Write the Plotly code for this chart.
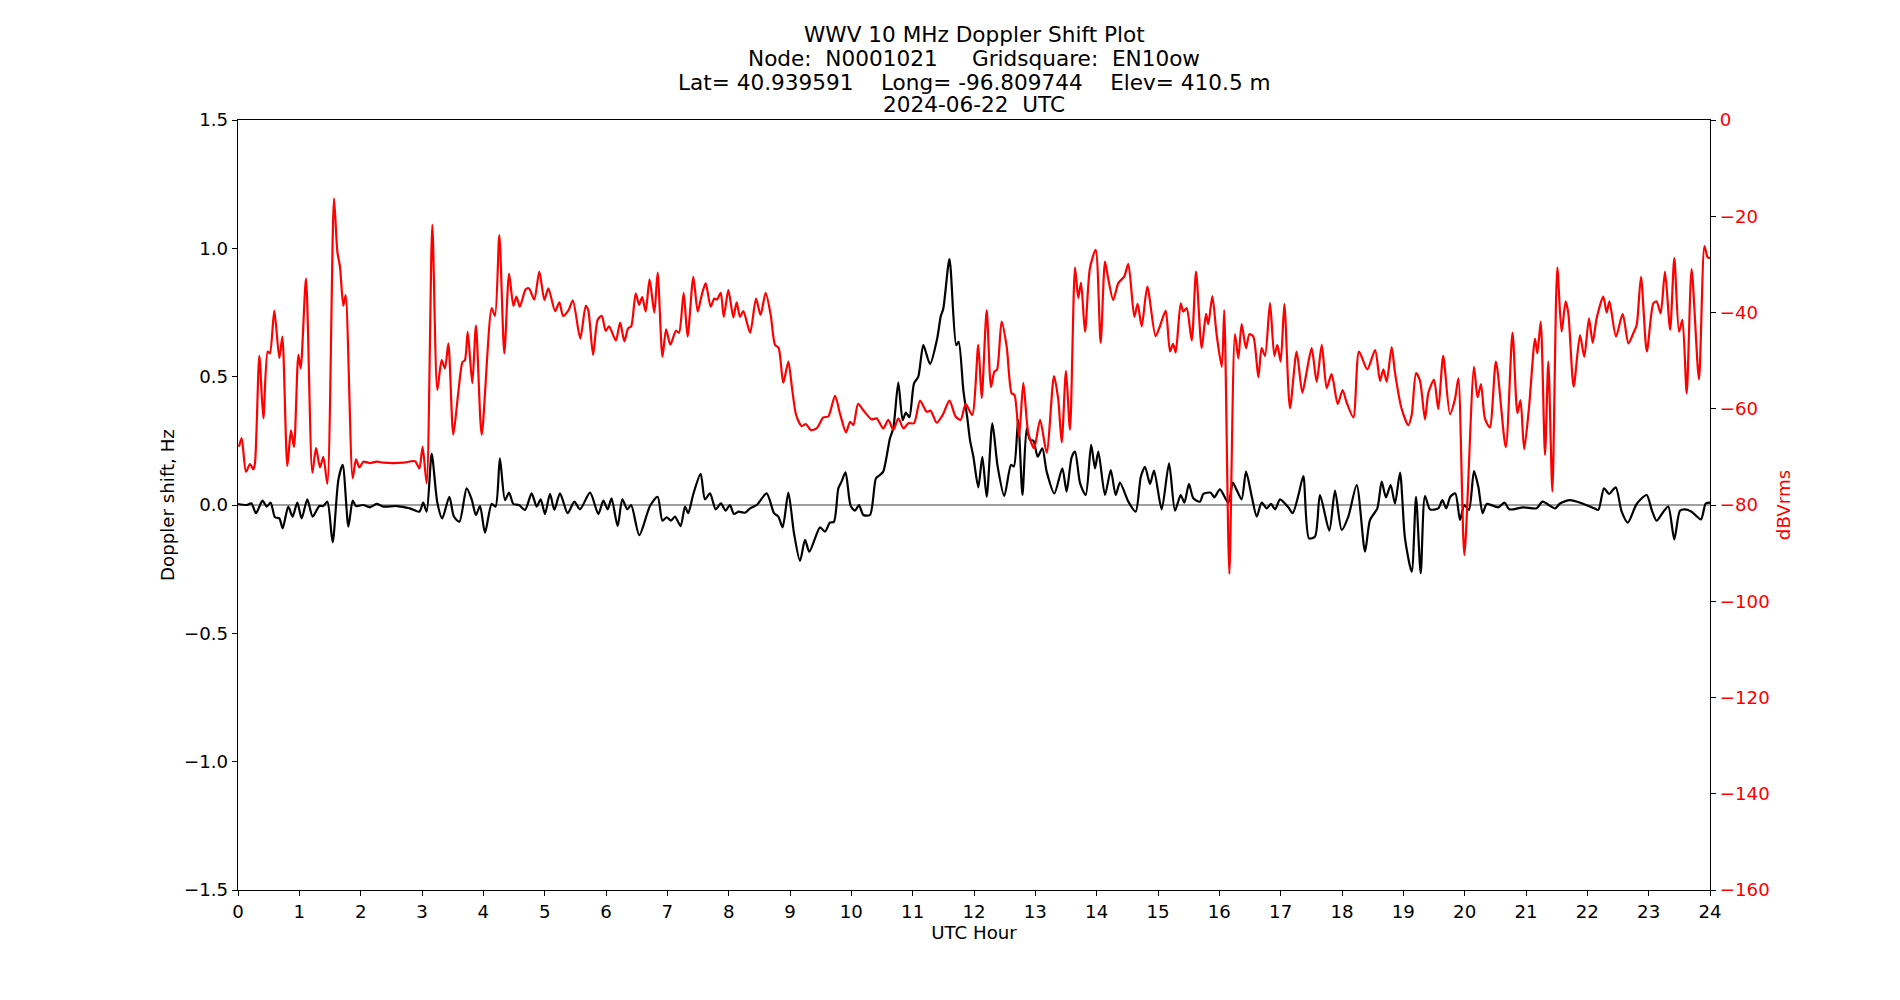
import plotly.graph_objects as go

# ---- data ----
dop_hours = [0.0, 0.14, 0.22, 0.293, 0.40, 0.467, 0.533, 0.603, 0.674, 0.728, 0.82, 0.89, 0.967, 1.038, 1.13, 1.217,
             1.326, 1.39, 1.457, 1.543, 1.636, 1.707, 1.8, 1.87, 1.924, 2.04, 2.15, 2.26, 2.37, 2.587, 2.80, 2.957,
             3.02, 3.076, 3.158, 3.25, 3.33, 3.446, 3.52, 3.61, 3.728, 3.81, 3.88, 3.946, 4.027, 4.136, 4.2, 4.27,
             4.353, 4.42, 4.49, 4.58, 4.68, 4.788, 4.87, 4.935, 5.005, 5.087, 5.158, 5.25, 5.375, 5.484, 5.576, 5.74,
             5.875, 5.957, 6.027, 6.09, 6.19, 6.266, 6.348, 6.41, 6.543, 6.717, 6.842, 6.92, 6.99, 7.06, 7.125, 7.217,
             7.288, 7.34, 7.424, 7.543, 7.614, 7.696, 7.788, 7.875, 7.95, 8.02, 8.087, 8.16, 8.266, 8.35, 8.457, 8.62,
             8.74, 8.81, 8.88, 8.973, 9.065, 9.163, 9.245, 9.315, 9.49, 9.57, 9.65, 9.717, 9.788, 9.84, 9.905, 9.99,
             10.06, 10.125, 10.196, 10.304, 10.402, 10.467, 10.52, 10.63, 10.685, 10.766, 10.837, 10.89, 10.946,
             11.022, 11.092, 11.174, 11.283, 11.40, 11.457, 11.5, 11.6, 11.71, 11.75, 11.826, 11.89, 11.935, 11.99,
             12.07, 12.136, 12.207, 12.3, 12.386, 12.494, 12.603, 12.65, 12.72, 12.79, 12.859, 12.913, 12.97, 13.038,
             13.114, 13.185, 13.31, 13.44, 13.51, 13.592, 13.647, 13.73, 13.821, 13.91, 13.973, 14.027, 14.136, 14.23,
             14.31, 14.38, 14.516, 14.636, 14.72, 14.788, 14.87, 14.935, 15.06, 15.18, 15.277, 15.37, 15.43, 15.505,
             15.576, 15.685, 15.74, 15.86, 15.918, 16.01, 16.147, 16.22, 16.283, 16.364, 16.435, 16.527, 16.61, 16.69,
             16.772, 16.843, 16.91, 16.99, 17.125, 17.196, 17.29, 17.37, 17.462, 17.56, 17.641, 17.793, 17.886,
             17.995, 18.103, 18.24, 18.375, 18.457, 18.576, 18.647, 18.717, 18.793, 18.864, 18.946, 19.027, 19.136,
             19.207, 19.283, 19.353, 19.435, 19.57, 19.636, 19.70, 19.766, 19.848, 19.924, 19.995, 20.07, 20.152,
             20.223, 20.293, 20.36, 20.55, 20.65, 20.73, 20.957, 21.174, 21.27, 21.473, 21.554, 21.717, 21.918,
             22.114, 22.18, 22.272, 22.353, 22.462, 22.56, 22.66, 22.804, 22.967, 23.05, 23.13, 23.24, 23.32, 23.418,
             23.51, 23.592, 23.70, 23.853, 23.93, 24.0]
dop_hz = [0.004, 0.0, 0.006, -0.032, 0.017, -0.006, 0.009, -0.048, -0.052, -0.091, -0.006, -0.045, 0.009, -0.052,
          0.022, -0.045, -0.004, -0.004, 0.013, -0.145, 0.097, 0.156, -0.084, 0.017, -0.004, 0.0, -0.009, 0.004,
          -0.006, -0.004, -0.013, -0.026, 0.009, -0.026, 0.199, 0.009, -0.052, 0.032, -0.045, -0.065, 0.065, 0.022,
          -0.039, -0.004, -0.108, 0.004, -0.006, 0.182, 0.019, 0.048, 0.004, 0.0, -0.019, 0.045, -0.006, 0.022,
          -0.035, 0.043, -0.019, 0.045, -0.032, 0.013, -0.017, 0.048, -0.035, 0.017, -0.017, 0.026, -0.082, 0.022,
          -0.017, 0.0, -0.117, -0.004, 0.032, -0.061, -0.048, -0.061, -0.045, -0.082, -0.006, -0.032, 0.043, 0.121,
          0.022, 0.045, -0.017, 0.006, -0.022, 0.0, -0.035, -0.026, -0.03, -0.013, 0.0, 0.045, -0.032, -0.045,
          -0.087, 0.048, -0.11, -0.218, -0.136, -0.182, -0.087, -0.104, -0.069, -0.065, 0.065, 0.091, 0.127, -0.004,
          -0.022, 0.0, -0.039, -0.039, 0.104, 0.117, 0.13, 0.26, 0.30, 0.477, 0.331, 0.36, 0.342, 0.474, 0.50,
          0.623, 0.549, 0.649, 0.734, 0.766, 0.958, 0.623, 0.636, 0.448, 0.34, 0.253, 0.188, 0.069, 0.188, 0.032,
          0.318, 0.149, 0.035, 0.156, 0.15, 0.331, 0.039, 0.299, 0.253, 0.25, 0.188, 0.221, 0.13, 0.045, 0.143,
          0.052, 0.186, 0.208, 0.084, 0.039, 0.234, 0.143, 0.208, 0.039, 0.136, 0.039, 0.087, 0.013, -0.026, 0.11,
          0.149, 0.082, 0.134, -0.017, 0.162, -0.022, 0.039, 0.009, 0.082, 0.026, 0.013, 0.043, 0.048, 0.03, 0.061,
          0.009, 0.087, 0.058, 0.022, 0.13, 0.035, -0.045, 0.009, -0.013, 0.004, -0.017, 0.022, -0.009, -0.032,
          0.039, 0.113, -0.13, -0.123, 0.039, -0.1, 0.056, -0.097, -0.045, 0.078, -0.182, -0.058, -0.013, 0.091,
          0.03, 0.078, 0.006, 0.126, -0.13, -0.26, 0.032, -0.266, 0.035, -0.017, -0.013, 0.019, -0.013, 0.032,
          0.045, -0.058, 0.0, -0.019, 0.132, 0.071, -0.032, 0.004, -0.009, 0.009, -0.017, -0.009, -0.013, 0.013,
          -0.013, 0.006, 0.019, 0.006, -0.013, -0.019, 0.065, 0.043, 0.069, -0.026, -0.069, 0.004, 0.039, -0.019,
          -0.061, -0.026, -0.006, -0.134, -0.022, -0.017, -0.026, -0.056, 0.006, 0.009]

pwr_hours = [0.016, 0.06, 0.13, 0.196, 0.25, 0.277, 0.348, 0.413, 0.484, 0.52, 0.592, 0.674, 0.723, 0.804, 0.864,
             0.913, 0.984, 1.022, 1.109, 1.212, 1.272, 1.337, 1.391, 1.457, 1.565, 1.62, 1.663, 1.717, 1.755, 1.87,
             1.924, 1.978, 2.043, 2.15, 2.26, 2.37, 2.53, 2.70, 2.886, 2.957, 3.01, 3.076, 3.168, 3.25, 3.32, 3.375,
             3.43, 3.51, 3.59, 3.66, 3.70, 3.745, 3.82, 3.88, 3.973, 4.136, 4.19, 4.261, 4.342, 4.42, 4.49, 4.54,
             4.595, 4.69, 4.745, 4.83, 4.913, 4.995, 5.06, 5.17, 5.24, 5.30, 5.39, 5.46, 5.58, 5.67, 5.71, 5.79,
             5.864, 5.93, 5.995, 6.05, 6.16, 6.23, 6.30, 6.36, 6.41, 6.484, 6.54, 6.59, 6.647, 6.71, 6.788, 6.842,
             6.92, 6.98, 7.05, 7.14, 7.19, 7.266, 7.33, 7.424, 7.495, 7.56, 7.625, 7.706, 7.766, 7.81, 7.87, 7.92,
             7.995, 8.076, 8.13, 8.185, 8.24, 8.35, 8.446, 8.52, 8.603, 8.685, 8.755, 8.815, 8.89, 8.973, 9.03, 9.10,
             9.19, 9.26, 9.337, 9.435, 9.543, 9.625, 9.734, 9.815, 9.913, 9.98, 10.033, 10.11, 10.195, 10.33, 10.413,
             10.52, 10.603, 10.685, 10.766, 10.85, 10.93, 11.022, 11.12, 11.228, 11.293, 11.39, 11.489, 11.6, 11.70,
             11.783, 11.864, 11.97, 12.07, 12.125, 12.207, 12.277, 12.332, 12.375, 12.45, 12.533, 12.614, 12.66,
             12.734, 12.804, 12.886, 12.98, 13.077, 13.185, 13.304, 13.375, 13.43, 13.50, 13.565, 13.647, 13.70,
             13.745, 13.81, 13.89, 13.984, 14.065, 14.136, 14.19, 14.27, 14.353, 14.45, 14.516, 14.614, 14.668,
             14.734, 14.826, 14.96, 15.033, 15.125, 15.196, 15.245, 15.288, 15.37, 15.413, 15.467, 15.55, 15.62,
             15.712, 15.783, 15.82, 15.886, 15.957, 16.04, 16.08, 16.163, 16.255, 16.31, 16.364, 16.435, 16.49,
             16.554, 16.636, 16.69, 16.745, 16.826, 16.897, 16.946, 17.0, 17.06, 17.152, 17.26, 17.353, 17.424,
             17.505, 17.587, 17.67, 17.75, 17.83, 17.93, 18.01, 18.076, 18.185, 18.277, 18.413, 18.54, 18.62,
             18.674, 18.728, 18.81, 18.864, 18.97, 19.08, 19.136, 19.207, 19.272, 19.353, 19.408, 19.5, 19.57,
             19.65, 19.76, 19.842, 19.897, 19.995, 20.152, 20.21, 20.266, 20.33, 20.41, 20.51, 20.67, 20.78, 20.86,
             20.91, 20.97, 21.05, 21.147, 21.185, 21.24, 21.31, 21.364, 21.43, 21.51, 21.58, 21.647, 21.69, 21.777,
             21.88, 21.95, 22.027, 22.087, 22.152, 22.26, 22.315, 22.36, 22.467, 22.576, 22.67, 22.75, 22.804,
             22.875, 22.97, 23.076, 23.13, 23.195, 23.266, 23.35, 23.418, 23.495, 23.55, 23.62, 23.70, 23.82, 23.91,
             23.96, 24.0]
pwr_dbv = [-67.9, -66.1, -73.1, -71.5, -72.6, -71.3, -49.0, -62.0, -48.1, -48.5, -39.6, -49.5, -45.0, -71.9, -64.5,
           -67.9, -48.8, -51.6, -32.9, -73.3, -68.1, -72.2, -70.0, -75.6, -16.3, -27.4, -30.5, -38.6, -36.4, -74.4,
           -70.5, -72.2, -71.0, -71.3, -71.0, -71.2, -71.3, -71.2, -70.9, -72.4, -67.9, -75.5, -21.8, -56.1, -49.9,
           -51.6, -46.4, -65.4, -56.8, -50.3, -49.9, -44.0, -54.7, -42.7, -65.4, -39.1, -40.7, -23.9, -48.5, -31.9,
           -38.6, -36.7, -38.8, -35.2, -35.0, -37.3, -31.5, -37.4, -35.0, -39.7, -37.9, -40.7, -39.5, -37.5, -45.4,
           -38.6, -39.5, -48.8, -41.5, -40.7, -43.8, -42.9, -45.8, -42.1, -46.0, -43.3, -42.9, -36.0, -38.4, -36.8,
           -39.8, -33.1, -40.0, -31.7, -49.2, -43.5, -46.7, -43.8, -44.2, -35.9, -45.0, -32.6, -39.8, -36.4, -33.9,
           -38.8, -37.1, -37.3, -35.9, -40.9, -35.3, -41.0, -37.9, -40.9, -39.7, -44.2, -37.1, -40.5, -35.9, -40.5,
           -46.7, -47.4, -54.6, -50.2, -55.4, -61.3, -63.6, -63.2, -64.4, -64.1, -61.8, -61.6, -57.3, -61.0, -64.9,
           -62.7, -63.4, -59.0, -60.3, -62.2, -62.0, -64.1, -62.3, -64.4, -62.0, -64.1, -63.0, -63.0, -58.3, -60.6,
           -60.4, -62.9, -61.3, -58.3, -61.6, -62.3, -59.0, -61.3, -46.7, -57.8, -39.5, -55.5, -52.3, -51.9, -41.9,
           -47.1, -56.8, -57.1, -65.9, -54.6, -65.1, -68.2, -62.3, -69.1, -53.2, -58.2, -67.0, -52.1, -64.4, -30.6,
           -37.0, -33.8, -44.0, -30.8, -27.0, -46.3, -29.4, -33.1, -37.4, -33.9, -32.5, -29.9, -40.9, -38.2, -42.9,
           -34.6, -44.9, -42.8, -39.6, -48.1, -46.5, -48.3, -38.1, -39.8, -39.1, -45.8, -31.5, -47.4, -40.3, -42.4,
           -36.6, -44.7, -51.3, -39.5, -94.3, -44.5, -49.5, -42.4, -47.4, -44.5, -45.0, -53.5, -47.4, -49.0, -38.0,
           -49.0, -46.7, -50.2, -38.2, -59.9, -48.1, -56.7, -52.3, -47.4, -54.4, -46.7, -55.7, -52.8, -59.0, -56.1,
           -58.7, -61.8, -48.1, -51.8, -47.8, -54.2, -51.8, -54.4, -47.2, -52.5, -59.9, -63.4, -61.3, -52.6, -54.2,
           -62.2, -56.7, -54.0, -60.1, -49.0, -61.1, -58.0, -53.7, -90.4, -51.3, -57.6, -54.9, -62.0, -63.9, -50.2,
           -68.0, -44.2, -60.9, -58.2, -68.4, -59.6, -45.4, -48.5, -41.9, -69.6, -50.2, -77.2, -30.6, -44.0, -37.7,
           -40.2, -55.4, -44.7, -49.2, -41.2, -46.3, -41.2, -36.7, -40.0, -37.7, -45.0, -40.3, -46.4, -44.3, -42.6,
           -32.6, -48.1, -38.1, -37.7, -40.2, -31.5, -43.6, -28.7, -44.0, -41.5, -56.8, -31.0, -53.9, -26.2, -28.5,
           -28.7]

title_lines = ["WWV 10 MHz Doppler Shift Plot",
               "Node:  N0001021     Gridsquare:  EN10ow",
               "Lat= 40.939591    Long= -96.809744    Elev= 410.5 m",
               "2024-06-22  UTC"]
hour_ticks = list(range(0, 25))
hz_ticks = [-1.5, -1.0, -0.5, 0.0, 0.5, 1.0, 1.5]
db_ticks = [0, -20, -40, -60, -80, -100, -120, -140, -160]

FONT = "DejaVu Sans"
TICK_SIZE = 18.2
TITLE_SIZE = 21.6

fig = go.Figure()

fig.add_trace(go.Scatter(x=dop_hours, y=dop_hz, mode="lines", yaxis="y",
                         line=dict(color="black", width=2.2, shape="spline", smoothing=0.7),
                         showlegend=False, hoverinfo="x+y"))
fig.add_trace(go.Scatter(x=pwr_hours, y=pwr_dbv, mode="lines", yaxis="y2",
                         line=dict(color="red", width=2.2, shape="spline", smoothing=0.7),
                         showlegend=False, hoverinfo="x+y"))

# zero reference line (axhline)
fig.add_shape(type="line", xref="x domain", x0=0, x1=1, yref="y", y0=0, y1=0,
              line=dict(color="#808080", width=1.5), layer="below")

top_px, bottom_px, H = 120, 110, 1000
plot_h = H - top_px - bottom_px
line_centers = [35, 59, 82.5, 104.5]
for txt, yc in zip(title_lines, line_centers):
    fig.add_annotation(text=txt, xref="paper", yref="paper", x=0.5,
                       y=(H - bottom_px - yc) / plot_h, xanchor="center", yanchor="middle",
                       showarrow=False, font=dict(family=FONT, size=TITLE_SIZE, color="black"))

fig.update_layout(
    width=1900, height=1000,
    margin=dict(l=238, r=190, t=top_px, b=bottom_px, pad=0),
    paper_bgcolor="white", plot_bgcolor="white",
    font=dict(family=FONT, size=TICK_SIZE, color="black"),
    xaxis=dict(range=[0, 24], tickvals=hour_ticks, ticktext=[str(t) for t in hour_ticks],
               showgrid=False, zeroline=False, showline=True, linecolor="black", linewidth=1.3,
               mirror=True, ticks="outside", ticklen=5, tickcolor="black", tickwidth=1.2,
               tickfont=dict(family=FONT, size=TICK_SIZE),
               title=dict(text="UTC Hour", font=dict(family=FONT, size=TICK_SIZE), standoff=3)),
    yaxis=dict(range=[-1.5, 1.5], tickvals=hz_ticks, tickformat=".1f",
               showgrid=False, zeroline=False, showline=True, linecolor="black", linewidth=1.3,
               ticks="outside", ticklen=5, tickcolor="black", tickwidth=1.2,
               tickfont=dict(family=FONT, size=TICK_SIZE),
               title=dict(text="Doppler shift, Hz", font=dict(family=FONT, size=TICK_SIZE), standoff=4)),
    yaxis2=dict(range=[-160, 0], tickvals=db_ticks, overlaying="y", side="right",
                showgrid=False, zeroline=False, showline=True, linecolor="black", linewidth=1.3,
                ticks="outside", ticklen=5, tickcolor="black", tickwidth=1.2,
                tickfont=dict(color="red", family=FONT, size=TICK_SIZE),
                title=dict(text="dBVrms", font=dict(family=FONT, size=TICK_SIZE, color="red"), standoff=8)),
)

fig.write_html("out.html")
